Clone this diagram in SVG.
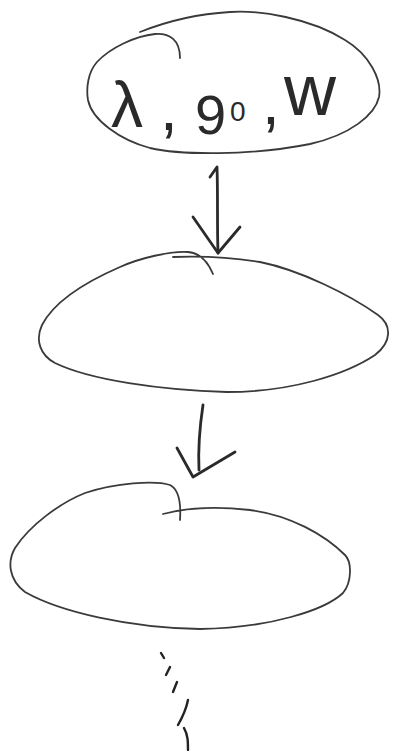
<svg xmlns="http://www.w3.org/2000/svg" width="393" height="751" viewBox="0 0 393 751">
<style>
.shape{fill:none;stroke:#3a3a3a;stroke-width:1.8;stroke-linecap:round;stroke-linejoin:round}
.arrow{fill:none;stroke:#2a2a2a;stroke-width:2.8;stroke-linecap:round;stroke-linejoin:round}
.mark{fill:none;stroke:#222;stroke-width:2.4;stroke-linecap:round}
.lbl{font-family:"Liberation Sans","DejaVu Sans",sans-serif;fill:#2a2a2a}
</style>
<rect width="393" height="751" fill="#ffffff"/>
<g id="node1">
<path class="shape" d="M180,58 C180,40 170,33 155,34 C135,36 110,48 97,62 C88,72 86,88 88,100 C92,120 120,140 150,148 C180,155 250,156 310,144 C350,135 375,115 379,97 C382,80 370,55 345,40 C310,18 260,10 230,12 C195,14 165,22 140,32"/>
<text class="lbl"><tspan x="111" y="127" font-size="64">λ</tspan><tspan x="160" y="130" font-size="64">,</tspan><tspan x="195" y="134" font-size="56">9</tspan><tspan x="230" y="121" font-size="28">0</tspan><tspan x="262" y="124" font-size="64">,</tspan><tspan x="284" y="115" font-size="72">w</tspan></text>
</g>
<g id="node2">
<path class="shape" d="M213,274 C208,262 200,253 188,252 C170,251 140,258 120,267 C90,280 55,300 42,325 C35,340 40,355 55,363 C90,380 160,390 227,392 C290,392 345,375 375,355 C392,342 392,325 378,315 C350,295 300,270 260,262 C230,257 200,256 173,257"/>
</g>
<g id="node3">
<path class="shape" d="M180,520 C181,505 180,490 170,485 C155,480 115,483 85,493 C60,503 30,525 15,548 C7,562 9,580 25,592 C60,612 130,628 200,629 C270,628 325,610 343,593 C352,582 352,562 345,555 C325,535 290,515 250,510 C215,506 185,508 163,514"/>
</g>
<g id="connectors">
<path class="arrow" d="M210,177 L217,167 C218,195 217,225 218,253"/>
<path class="arrow" d="M193,217 L218,253 L240,227"/>
<path class="arrow" d="M203,405 C200,425 198,450 199,470"/>
<path class="arrow" d="M177,448 L193,477 L235,452"/>
<path class="mark" d="M161,653 L164,658"/>
<path class="mark" d="M170,667 L166,675"/>
<path class="mark" d="M177,682 L173,692"/>
<path class="mark" d="M188,700 C186,710 182,718 178,725"/>
<path class="mark" d="M184,728 C188,735 188,742 188,750"/>
</g>
</svg>
